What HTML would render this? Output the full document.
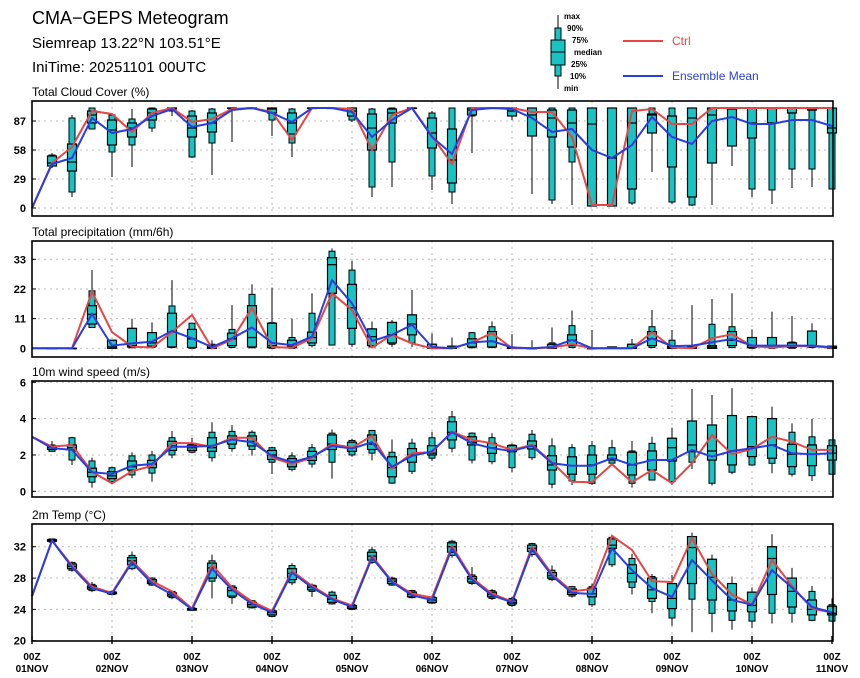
<!DOCTYPE html>
<html><head><meta charset="utf-8"><style>
body{margin:0;background:#fff;}
svg{display:block;font-family:"Liberation Sans",sans-serif;}
.tk{font-size:11px;font-weight:bold;text-anchor:end;}
.xl{font-size:10px;font-weight:bold;text-anchor:middle;}
.pt{font-size:12px;}
.lg{font-size:8px;font-weight:bold;}
</style></head><body>
<svg id="chart" width="860" height="678" viewBox="0 0 860 678" xmlns="http://www.w3.org/2000/svg">
<text x="32" y="24" font-size="18">CMA−GEPS Meteogram</text>
<text x="32" y="48" font-size="15">Siemreap 13.22°N 103.51°E</text>
<text x="32" y="72" font-size="15">IniTime: 20251101 00UTC</text>
<g>
<line x1="558" y1="15" x2="558" y2="89" stroke="#000"/>
<rect x="555" y="28" width="6" height="48" fill="#17c3c3" stroke="#000"/>
<rect x="551" y="40" width="14" height="25" fill="#17c3c3" stroke="#000"/>
<line x1="551" y1="52" x2="565" y2="52" stroke="#000"/>
<text class="lg" x="564" y="19">max</text><text class="lg" x="567" y="31">90%</text>
<text class="lg" x="572" y="43">75%</text><text class="lg" x="574" y="55">median</text>
<text class="lg" x="571" y="67">25%</text><text class="lg" x="570" y="79">10%</text>
<text class="lg" x="564" y="91">min</text>
<line x1="623" y1="41" x2="663" y2="41" stroke="#e84545" stroke-width="2"/>
<text x="672" y="45" font-size="12" fill="#e84545">Ctrl</text>
<line x1="623" y1="76" x2="663" y2="76" stroke="#2a3ee0" stroke-width="2"/>
<text x="672" y="80" font-size="12" fill="#2a3ee0">Ensemble Mean</text>
</g>
</svg>
<script>
// ---- Panel 1: Total cloud cover (%)
const cc_ctrl=[0,45,61,97,94,76,95,100,86,89,99,100,96,68,100,100,99,58,93,100,72,44,100,100,100,96,96,71,3,3,97,99,84,84,100,100,100,100,100,100,100];
const cc_mean=[0,44,50,90,75,79,92,99,81,85,98,100,95,86,100,100,96,71,88,100,71,54,98,100,99,90,76,79,58,50,63,91,71,64,87,91,84,84,88,88,82];
const cc_min=[null,40,11,79,31,41,76,92,50,33,66,100,72,51,100,100,86,11,21,100,18,4,55,100,88,14,4,3,2,2,3,36,4,2,3,42,11,4,20,21,19];
const cc_p10=[null,42,16,79,56,63,80,97,51,65,99,100,88,65,100,100,88,21,46,100,32,16,92,100,92,72,8,46,2,2,5,75,6,3,45,62,19,18,39,39,19];
const cc_p25=[null,42,37,85,63,71,88,99,71,76,100,100,95,74,100,100,92,58,85,100,60,25,93,100,92,72,71,61,2,2,19,75,41,11,45,62,70,85,95,98,75];
const cc_med=[null,45,46,93,78,80,95,100,80,85,100,100,99,85,100,100,97,80,95,100,75,48,98,100,97,93,90,85,84,50,85,93,92,90,93,99,85,85,95,98,80];
const cc_p75=[null,52,64,97,88,85,99,100,92,95,100,100,100,95,100,100,100,94,99,100,90,79,100,100,100,100,98,98,100,100,100,94,92,100,100,100,100,100,100,100,100];
const cc_p90=[null,53,90,100,93,89,100,100,97,99,100,100,100,99,100,100,100,99,100,100,95,100,100,100,100,100,100,100,100,100,100,100,100,100,100,100,100,100,100,100,100];
const cc_max=[null,55,93,100,95,99,100,100,98,100,100,100,100,100,100,100,100,100,100,100,97,100,100,100,100,100,100,100,100,100,100,100,100,100,100,100,100,100,100,100,100];
const cc_ticks=[0,29,58,87];
// ---- Panel 2: precipitation (mm/6h)
const pr_ctrl=[0,0,0,21,6,0.6,0.3,6,12.4,0,3.2,15,0.5,0.2,3.7,20.4,14.2,0.3,5,1.8,0,0,2.2,5.6,0,0,0.3,1.5,0,0,0,6,0.3,0,3.7,5.2,0.8,0.3,0.8,0.8,0.2];
const pr_mean=[0,0,0,12.7,1,1.8,2.5,6.5,3.7,0.5,3.7,7.7,2,1.2,4.3,25.3,16.7,2.7,5,8.7,0.5,0,2.2,2.7,0.3,0,0.5,3.1,0,0,0,3.7,0.8,1,2.2,3.5,1,1,1,1,0.4];
const pr_min=[null,0,0,7.7,0,0,0,0,0,0,0,0,0,0,0.3,1.2,0.5,0,0.5,0.5,0,0,0,0,0,0,0,0,0,0,0,0,0,0,0,0,0,0,0,0,0];
const pr_p10=[null,0,0,7.7,0,0.2,0.3,0.3,0,0,0.3,0.2,0,0,1,1.2,1.5,0.5,1.5,2,0,0,0.2,0.3,0,0,0,0.3,0,0,0,0.3,0,0,0,0.3,0,0,0,0.3,0];
const pr_p25=[null,0,0,9,0,0.5,0.8,0.5,0.3,0,1,0.5,0.3,0.3,2,20.4,7.4,1,2,5,0,0,0.5,0.5,0,0,0,1,0,0,0,1,0,0,0,1,0.3,0.3,0.3,0.5,0];
const pr_med=[null,0,0,12.6,0.5,1,2,6,3.5,0.3,3.5,4,1,0.8,4,31,15,4.3,5,9,0.3,0.2,2,2.5,0,0,0.3,3,0,0,0,3.5,0.5,0.3,0.5,3,1,0.8,0.8,1,0.3];
const pr_p75=[null,0,0,15.8,3,7.4,5.8,13,7,1,5.6,15.8,9.3,3,6,33.6,23.7,7.2,9.6,12.4,1.5,0.8,3.5,6.2,0.3,0,1.5,5,0,0.5,1.5,6.2,0.8,0.5,1,6.2,4,4,2,6.4,0.8];
const pr_p90=[null,0,0,21.3,3,7.4,5.8,15.7,9.3,1.5,7,20,9.5,4,13,36,29,7.2,9.6,12.4,1.5,0.8,5.8,8,0.5,0,2,8.4,0,0.5,1.5,8,3,0.8,8.9,8,4,4,2.3,6.4,0.8];
const pr_max=[null,0,0,29,3,11,9.6,25.3,9.5,3,16,23.7,22.5,11,20.4,37,32.4,9.9,10.5,21.6,5.6,4,6,10,5.2,3,7.7,14,6.8,0.5,3.5,14.2,6.8,16,18.3,20.4,7,13.6,12,9.3,1];
const pr_ticks=[0,11,22,33];
// ---- Panel 3: 10m wind speed (m/s)
const ws_ctrl=[3,2.46,2.55,1.08,0.44,1.1,1.4,2.65,2.65,2.45,2.95,2.95,1.85,1.5,1.85,2.6,2.4,3.05,1.25,2.1,2.15,3.28,2.83,2.64,2.28,2.55,1.6,0.53,0.5,1.49,0.5,1.17,0.44,1.54,3.1,2.04,2.33,3.0,2.73,2.28,2.28];
const ws_mean=[3,2.37,2.28,1.05,0.95,1.41,1.5,2.45,2.45,2.5,2.85,2.7,1.95,1.6,1.9,2.5,2.35,2.7,1.35,1.95,2.2,3.25,2.64,2.37,2.22,2.51,1.54,1.41,1.41,1.82,1.45,1.72,1.72,2.28,1.91,2.22,2.37,2.55,2.09,2.04,2.09];
const ws_min=[null,2.2,1.45,0.2,0.44,0.72,0.53,1.82,2.1,1.63,2.18,1.96,0.95,1.1,1.3,0.7,1.9,1.7,0.4,0.95,1.67,2.15,1.54,1.49,1.05,1.72,0.17,0.35,0.35,1.49,0.2,0.62,0.35,1.23,0.31,0.94,1.41,0.99,0.81,0.57,0.94];
const ws_p10=[null,2.2,1.72,0.5,0.53,0.9,1.0,2.0,2.15,1.85,2.35,2.3,1.6,1.2,1.5,1.6,2.0,2.1,0.45,1.1,1.82,2.37,1.72,1.63,1.3,1.85,0.39,0.57,0.44,1.55,0.44,0.62,0.53,1.6,0.44,1.05,1.45,1.54,0.94,0.86,0.94];
const ws_p25=[null,2.3,2.28,0.8,0.7,1.17,1.3,2.25,2.25,2.2,2.6,2.5,1.75,1.35,1.7,2.3,2.2,2.3,0.8,1.6,2.0,2.83,2.55,2.09,2.18,2.33,1.17,0.94,0.94,1.72,0.9,1.17,1.67,2.18,1.72,1.45,1.91,1.82,1.36,1.41,1.72];
const ws_med=[null,2.4,2.4,1.05,0.85,1.35,1.5,2.5,2.4,2.4,2.85,2.75,2.0,1.6,1.9,2.6,2.4,2.6,1.3,2.0,2.1,3.25,2.7,2.4,2.3,2.5,1.45,1.41,1.45,1.8,1.45,1.72,2.4,2.55,2.22,2.22,2.46,2.55,2.04,2.55,2.1];
const ws_p75=[null,2.5,2.55,1.27,1.08,1.67,1.7,2.75,2.55,2.95,3.05,3.05,2.25,1.8,2.2,3.1,2.7,3.1,1.9,2.35,2.51,3.83,3.0,2.64,2.51,2.77,1.96,1.9,2.0,2.0,2.15,2.22,2.92,3.87,3.65,4.17,4.11,4.0,2.59,2.55,2.51];
const ws_p90=[null,2.55,2.95,1.67,1.3,1.95,2.0,2.95,2.6,3.25,3.3,3.25,2.4,1.95,2.4,3.2,2.8,3.35,2.15,2.65,2.95,4.1,3.2,2.95,2.55,3.14,2.5,2.4,2.51,2.4,2.22,2.64,2.92,3.87,3.65,4.17,4.11,4.0,3.25,3.0,2.83];
const ws_max=[null,2.77,3.0,1.85,1.35,2.15,2.22,3.32,2.95,3.8,3.65,3.35,2.45,2.15,2.6,3.4,2.9,3.35,2.85,2.9,3.28,4.42,3.25,3.2,2.64,3.38,2.92,2.6,2.77,2.83,2.77,3.0,3.5,5.63,5.3,5.67,4.17,4.66,3.74,3.98,2.83];
const ws_ticks=[0,2,4,6];
// ---- Panel 4: 2m temperature (°C)
const t_ctrl=[25.7,32.8,29.6,26.9,26.1,30.2,27.6,26.3,24.1,29.7,26.8,25.0,23.8,28.9,27.0,25.4,24.5,30.8,27.6,26.0,25.5,32.1,28.0,26.0,25.0,32.0,28.5,26.3,26.6,33.4,31.6,27.6,27.5,33.1,28.5,25.9,24.6,30.3,27.0,24.1,23.6];
const t_mean=[25.7,32.8,29.4,26.7,26.0,30.0,27.3,25.9,24.0,29.2,26.5,24.7,23.6,28.7,26.8,25.3,24.3,30.6,27.5,25.8,25.2,31.8,27.8,25.8,24.9,31.7,28.3,26.1,25.96,31.8,29.0,26.7,25.6,30.3,27.7,25.2,24.6,29.0,26.8,24.3,23.6];
const t_min=[null,32.5,28.8,26.2,25.8,29.0,27.0,25.3,23.8,25.4,24.7,24.1,23.0,27.1,25.6,24.6,23.9,29.8,27.0,25.4,24.7,30.6,27.1,25.2,24.3,30.7,27.6,25.5,24.3,29.4,25.9,23.5,21.9,21.1,21.1,21.4,21.6,22.2,22.3,22.5,22.4];
const t_p10=[null,32.6,29.0,26.4,25.9,29.2,27.1,25.5,23.9,27.6,25.5,24.2,23.1,27.4,26.3,24.7,24.0,30.0,27.1,25.5,24.8,30.9,27.3,25.4,24.5,31.0,27.8,25.7,24.6,29.7,26.8,25.0,22.9,25.3,23.5,22.6,22.5,23.5,23.5,22.6,22.5];
const t_p25=[null,32.7,29.2,26.6,26.0,29.7,27.3,25.7,23.9,28.0,25.7,24.3,23.3,27.8,26.5,24.9,24.1,30.3,27.3,25.6,24.9,31.3,27.5,25.6,24.7,31.4,28.0,25.9,25.6,31.8,27.5,25.4,24.1,27.3,25.2,23.8,23.7,25.9,24.3,23.3,23.3];
const t_med=[null,32.8,29.5,26.8,26.1,30.2,27.5,25.9,24.0,29.3,26.4,24.6,23.6,28.6,26.8,25.3,24.3,30.8,27.6,25.9,25.2,32.0,27.9,25.9,24.9,31.8,28.3,26.2,26.0,32.2,28.6,26.5,25.4,31.9,28.1,25.2,24.5,30.5,26.3,24.0,23.5];
const t_p75=[null,32.9,29.8,27.0,26.2,30.6,27.8,26.1,24.1,29.9,26.8,24.9,23.8,29.2,27.0,25.8,24.5,31.3,27.9,26.2,25.5,32.5,28.2,26.2,25.2,32.2,28.7,26.6,26.7,33.0,29.7,28.0,27.3,33.3,30.4,27.3,26.2,32.0,28.0,25.2,24.4];
const t_p90=[null,33.0,30.0,27.2,26.3,30.9,28.0,26.3,24.2,30.2,27.0,25.1,23.9,29.6,27.1,26.2,24.6,31.6,28.0,26.4,25.6,32.7,28.4,26.4,25.4,32.4,29.0,26.9,26.9,33.2,30.5,28.2,27.3,33.3,30.4,27.3,26.2,32.0,28.0,26.3,24.6];
const t_max=[null,33.0,30.1,27.5,26.4,31.4,28.1,26.4,24.3,31.0,27.1,25.2,24.0,29.9,27.3,26.4,24.8,32.0,28.2,26.5,25.8,32.9,29.4,26.6,25.6,32.5,29.6,27.0,27.3,33.3,31.1,28.5,28.4,33.8,31.0,28.2,26.8,33.6,29.3,27.0,25.4];
const t_ticks=[20,24,28,32];
const dayLabels=["01NOV","02NOV","03NOV","04NOV","05NOV","06NOV","07NOV","08NOV","09NOV","10NOV","11NOV"];

const NS="http://www.w3.org/2000/svg";
const svg=document.getElementById('chart');
const X0=32,DX=20,XR=833;
function xs(i){return X0+i*DX;}
function mk(tag,attrs,parent){const e=document.createElementNS(NS,tag);for(const k in attrs)e.setAttribute(k,attrs[k]);(parent||svg).appendChild(e);return e;}

const panels=[
 {name:'cloud-cover',title:'Total Cloud Cover (%)',top:101,bottom:216,y0:208,k:1.0,v0:0,ticks:cc_ticks,ctrl:cc_ctrl,mean:cc_mean,box:[cc_min,cc_p10,cc_p25,cc_med,cc_p75,cc_p90,cc_max]},
 {name:'precipitation',title:'Total precipitation (mm/6h)',top:241,bottom:357,y0:348.3,k:2.697,v0:0,ticks:pr_ticks,ctrl:pr_ctrl,mean:pr_mean,box:[pr_min,pr_p10,pr_p25,pr_med,pr_p75,pr_p90,pr_max]},
 {name:'wind-speed',title:'10m wind speed (m/s)',top:381,bottom:497,y0:491.3,k:18.17,v0:0,ticks:ws_ticks,ctrl:ws_ctrl,mean:ws_mean,box:[ws_min,ws_p10,ws_p25,ws_med,ws_p75,ws_p90,ws_max]},
 {name:'temperature',title:'2m Temp (°C)',top:524,bottom:641,y0:640.7,k:7.83,v0:20,ticks:t_ticks,ctrl:t_ctrl,mean:t_mean,box:[t_min,t_p10,t_p25,t_med,t_p75,t_p90,t_max]}
];

panels.forEach((p,pi)=>{
 const g=mk('g',{});
 
 
 const ys=v=>p.y0-(v-p.v0)*p.k;
 const t=mk('text',{x:32,y:p.top-5,class:'pt'},g);t.textContent=p.title;
 
 
 // grid
 p.ticks.forEach(v=>{
  const y=ys(v);
  if(y>p.top+1&&y<p.bottom-1){const gl=mk('line',{x1:X0,x2:XR,y1:y,y2:y,stroke:'#bbb','stroke-dasharray':'2,4'},g);
   
   }
  mk('line',{x1:X0,x2:X0+4,y1:y,y2:y,stroke:'#000'},g);
  const tl=mk('text',{x:26,y:y+4,class:'tk'},g);tl.textContent=v;
  
  
 });
 for(let d=1;d<10;d++){const vl=mk('line',{x1:xs(d*4),x2:xs(d*4),y1:p.top,y2:p.bottom,stroke:'#bbb','stroke-dasharray':'2,4'},g);
  
  }
 // boxes
 const [mn,p10,p25,md,p75,p90,mx]=p.box;
 for(let i=1;i<mn.length;i++){
  if(mn[i]==null)continue;
  const x=xs(i);
  const bg=mk('g',{},g);
  
  
  mk('line',{x1:x,x2:x,y1:ys(mn[i]),y2:ys(mx[i]),stroke:'#000','stroke-width':1},bg);
  mk('rect',{x:x-3,y:ys(p90[i]),width:6,height:Math.max(0.5,ys(p10[i])-ys(p90[i])),fill:'#17c3c3',stroke:'#000','stroke-width':1},bg);
  mk('rect',{x:x-4.5,y:ys(p75[i]),width:9,height:Math.max(0.5,ys(p25[i])-ys(p75[i])),fill:'#17c3c3',stroke:'#000','stroke-width':1.2},bg);
  mk('line',{x1:x-4.5,x2:x+4.5,y1:ys(md[i]),y2:ys(md[i]),stroke:'#000','stroke-width':1.2},bg);
 }
 // lines
 const path=arr=>arr.map((v,i)=>(i?'L':'M')+xs(i).toFixed(1)+','+ys(v).toFixed(1)).join('');
 const lc=mk('path',{d:path(p.ctrl),fill:'none',stroke:'#e84545','stroke-width':2},g);
 
 
 const lm=mk('path',{d:path(p.mean),fill:'none',stroke:'#2a3ee0','stroke-width':2},g);
 
 
 const fr=mk('rect',{x:X0,y:p.top,width:XR-X0,height:p.bottom-p.top,fill:'none',stroke:'#000','stroke-width':1.6},g);
 
 
});
// x axis labels
dayLabels.forEach((lab,d)=>{
 const x=xs(d*4);
 mk('line',{x1:x,x2:x,y1:636,y2:644,stroke:'#000','stroke-width':1.4});
 const a=mk('text',{x:x,y:660,class:'xl'});a.textContent='00Z';
 
 
 const b=mk('text',{x:x,y:672,class:'xl'});b.textContent=lab;
 
 
});
</script>
</body></html>
